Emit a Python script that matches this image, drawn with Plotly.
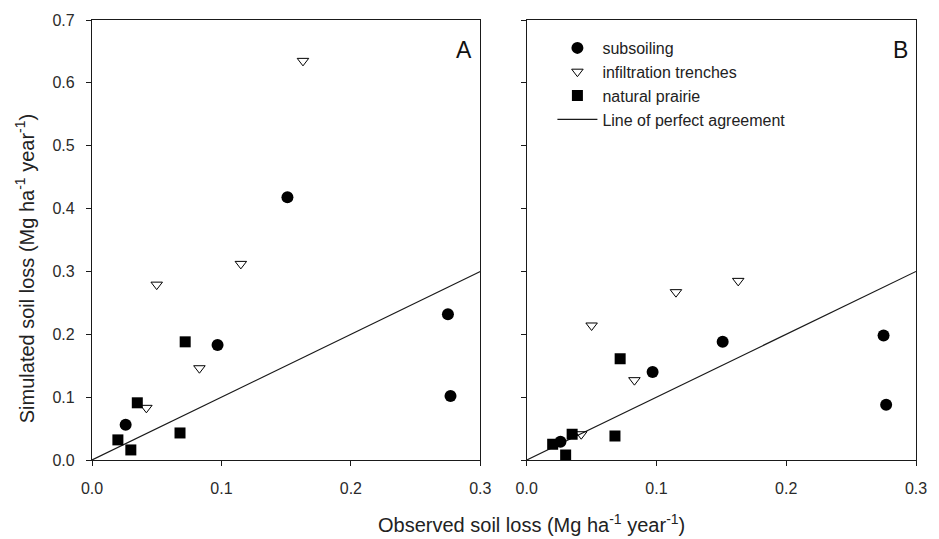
import plotly.graph_objects as go

# Observed soil loss (Mg ha-1 year-1)
obs_subsoiling = [0.026, 0.097, 0.151, 0.275, 0.277]
obs_trenches = [0.042, 0.050, 0.083, 0.115, 0.163]
obs_prairie = [0.020, 0.030, 0.035, 0.068, 0.072]

# Simulated soil loss, panel A
simA_subsoiling = [0.056, 0.183, 0.418, 0.232, 0.102]
simA_trenches = [0.083, 0.279, 0.146, 0.312, 0.635]
simA_prairie = [0.032, 0.016, 0.091, 0.043, 0.188]

# Simulated soil loss, panel B
simB_subsoiling = [0.029, 0.140, 0.188, 0.198, 0.088]
simB_trenches = [0.041, 0.214, 0.127, 0.267, 0.285]
simB_prairie = [0.025, 0.008, 0.041, 0.038, 0.161]

line_x = [0.0, 0.3]
line_y = [0.0, 0.3]

x_ticks = [0.0, 0.1, 0.2, 0.3]
y_ticks = [0.0, 0.1, 0.2, 0.3, 0.4, 0.5, 0.6, 0.7]

names = ["subsoiling", "infiltration trenches", "natural prairie", "Line of perfect agreement"]

FONT = "Liberation Sans, Arial, sans-serif"
INK = "#1a1a1a"

W, H = 939, 539
L, R, T, B = 92, 13, 19, 79
PW = W - L - R
PH = H - T - B

fig = go.Figure()

panels = [
    ("x", "y", simA_subsoiling, simA_trenches, simA_prairie, False),
    ("x2", "y2", simB_subsoiling, simB_trenches, simB_prairie, True),
]
for xa, ya, s_sub, s_tr, s_pr, show in panels:
    fig.add_trace(go.Scatter(x=line_x, y=line_y, mode="lines", name=names[3],
                             line=dict(color=INK, width=1.2), xaxis=xa, yaxis=ya,
                             showlegend=False))
    fig.add_trace(go.Scatter(x=obs_subsoiling, y=s_sub, mode="markers", name=names[0],
                             marker=dict(symbol="circle", size=12, color="black"),
                             xaxis=xa, yaxis=ya, showlegend=show, legendrank=1))
    fig.add_trace(go.Scatter(x=obs_trenches, y=s_tr, mode="markers", name=names[1],
                             marker=dict(symbol="triangle-down-open", size=10, color="black",
                                         line=dict(width=1, color="black")),
                             xaxis=xa, yaxis=ya, showlegend=show, legendrank=2))
    fig.add_trace(go.Scatter(x=obs_prairie, y=s_pr, mode="markers", name=names[2],
                             marker=dict(symbol="square", size=11, color="black"),
                             xaxis=xa, yaxis=ya, showlegend=show, legendrank=3))
    if show:
        fig.add_trace(go.Scatter(x=[None], y=[None], mode="lines", name=names[3],
                                 line=dict(color=INK, width=1.2), xaxis=xa, yaxis=ya,
                                 showlegend=True, legendrank=4))

axis_common = dict(range=[0, 0.3], tickvals=x_ticks, tickformat=".1f", showgrid=False,
                   zeroline=False, showline=True, linecolor=INK, linewidth=1.2, mirror=True,
                   ticks="outside", ticklen=5, tickcolor=INK, ticklabelstandoff=9,
                   tickfont=dict(family=FONT, size=16, color="#2a2a2a"))
yaxis_common = dict(range=[0, 0.7], tickvals=y_ticks, tickformat=".1f", showgrid=False,
                    zeroline=False, showline=True, linecolor=INK, linewidth=1.2, mirror=True,
                    ticks="outside", ticklen=5, tickcolor=INK, ticklabelstandoff=8,
                    tickfont=dict(family=FONT, size=16, color="#2a2a2a"))

fig.update_layout(
    width=W, height=H, autosize=False,
    margin=dict(l=L, r=R, t=T, b=B),
    paper_bgcolor="white", plot_bgcolor="white",
    font=dict(family=FONT, size=16, color="#222"),
    xaxis=dict(domain=[0, (485 - L) / PW], anchor="y", **axis_common),
    yaxis=dict(domain=[0, 1], anchor="x", **yaxis_common),
    xaxis2=dict(domain=[(532 - L) / PW, 1], anchor="y2", **axis_common),
    yaxis2=dict(domain=[0, 1], anchor="x2", showticklabels=False, **yaxis_common),
    legend=dict(x=(558 - L) / PW, y=(H - B - 30) / PH, xanchor="left", yanchor="top",
                bgcolor="rgba(0,0,0,0)", itemwidth=40,
                font=dict(family=FONT, size=16, color="#222"),
                traceorder="normal", tracegroupgap=0),
    showlegend=True,
    annotations=[
        dict(text="A", x=0.985, y=0.965, xref="x domain", yref="y domain", showarrow=False,
             xanchor="right", yanchor="top", font=dict(family=FONT, size=23, color="#111")),
        dict(text="B", x=0.985, y=0.965, xref="x2 domain", yref="y2 domain", showarrow=False,
             xanchor="right", yanchor="top", font=dict(family=FONT, size=23, color="#111")),
        dict(text="Observed soil loss (Mg ha<sup>-1</sup> year<sup>-1</sup>)",
             x=(537 - L) / PW, y=-(524 - (H - B)) / PH,
             xref="paper", yref="paper", showarrow=False, xanchor="center", yanchor="middle",
             font=dict(family=FONT, size=20, color="#222")),
        dict(text="Simulated soil loss (Mg ha<sup>-1</sup> year<sup>-1</sup>)",
             x=(24 - L) / PW, y=(H - B - 268) / PH,
             xref="paper", yref="paper", showarrow=False, textangle=-90,
             xanchor="center", yanchor="middle",
             font=dict(family=FONT, size=20, color="#222")),
    ],
)

fig.write_html(
    "out.html",
    config={"responsive": False, "displayModeBar": False},
    post_script="document.body.style.margin='0';document.body.style.overflow='hidden';",
)
